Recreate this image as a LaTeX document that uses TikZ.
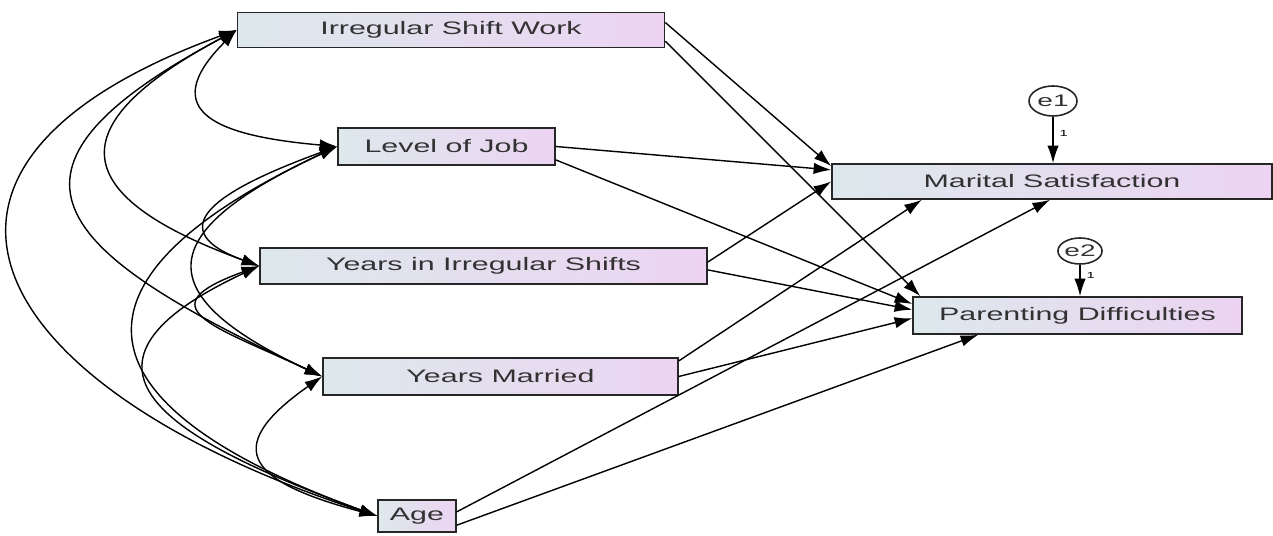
\documentclass[tikz,border=0pt]{standalone}
\usepackage{fontspec}
\newfontfamily\boxfont[FakeStretch=1.68]{Liberation Sans}
\usetikzlibrary{arrows.meta,shapes.geometric,positioning}
\definecolor{boxleft}{RGB}{221,232,236}
\definecolor{boxright}{RGB}{236,212,242}
\definecolor{boxtext}{RGB}{50,50,50}

\begin{document}
\begin{tikzpicture}[>={Latex[length=10pt,width=6.5pt]},
		var/.style={draw=black!85, line width=0.9pt, left color=boxleft, right color=boxright, inner sep=0pt, font=\fontsize{10.3}{12}\boxfont, text=boxtext},
		err/.style={ellipse, draw=black!85, line width=0.9pt, fill=white, inner sep=0pt, font=\fontsize{9.5}{11}\boxfont, text=boxtext},
		reg/.style={->, line width=0.8pt},
		cov/.style={<->, line width=0.8pt}]
	\useasboundingbox (0,0) rectangle (25.46,10.72);
	\node [var, minimum width=8.54cm, minimum height=0.70cm] (isw) at (9.02,10.12) {Irregular Shift Work};
	\node [var, minimum width=4.34cm, minimum height=0.74cm] (lj) at (8.93,7.79) {Level of Job};
	\node [var, minimum width=8.94cm, minimum height=0.72cm] (yis) at (9.67,5.40) {Years in Irregular Shifts};
	\node [var, minimum width=7.10cm, minimum height=0.74cm] (ym) at (10.01,3.19) {Years Married};
	\node [var, minimum width=1.56cm, minimum height=0.64cm] (age) at (8.34,0.40) {Age};
	\node [var, minimum width=8.80cm, minimum height=0.70cm] (ms) at (21.04,7.09) {Marital Satisfaction};
	\node [var, minimum width=6.58cm, minimum height=0.74cm] (pd) at (21.55,4.41) {Parenting Difficulties};
	\node [err, minimum width=0.96cm, minimum height=0.60cm] (e1) at (21.06,8.70) {e1};
	\node [err, minimum width=0.88cm, minimum height=0.52cm] (e2) at (21.60,5.70) {e2};

	\draw [reg] (e1.south) -- (e1.south |- ms.north) node [pos=0.35, right, font=\fontsize{5}{6}\boxfont] {1};
	\draw [reg] (e2.south) -- (e2.south |- pd.north) node [pos=0.35, right, font=\fontsize{5}{6}\boxfont] {1};

	\draw [reg] (isw.2) -- (ms.176);
	\draw [reg] (isw.-3) -- (pd.173);
	\draw [reg] (lj.0) -- (ms.177.5);
	\draw [reg] (lj.-7) -- (pd.176);
	\draw [reg] (yis.1) -- (ms.west);
	\draw [reg] (yis.-1) -- (pd.178);
	\draw [reg] (ym.5) -- (ms.188);
	\draw [reg] (ym.east) -- (pd.181);
	\draw [reg] (age.6) -- (ms.264);
	\draw [reg] (age.-13) -- (pd.191);

	\draw [cov] (isw.west) to [out=225, in=175, looseness=1.95] (lj.west);
	\draw [cov] (isw.west) to [out=208, in=160, looseness=2.2] (yis.west);
	\draw [cov] (isw.west) to [out=208, in=155, looseness=2.15] (ym.west);
	\draw [cov] (isw.west) to [out=200, in=162, looseness=2.05] (age.west);
	\draw [cov] (lj.west) to [out=200, in=160, looseness=2.05] (yis.west);
	\draw [cov] (lj.west) to [out=205, in=155, looseness=2.2] (ym.west);
	\draw [cov] (lj.west) to [out=205, in=160, looseness=2.2] (age.west);
	\draw [cov] (yis.west) to [out=200, in=155, looseness=2.45] (ym.west);
	\draw [cov] (yis.west) to [out=205, in=160, looseness=2.15] (age.west);
	\draw [cov] (ym.west) to [out=215, in=165, looseness=2.2] (age.west);
\end{tikzpicture}
\end{document}
